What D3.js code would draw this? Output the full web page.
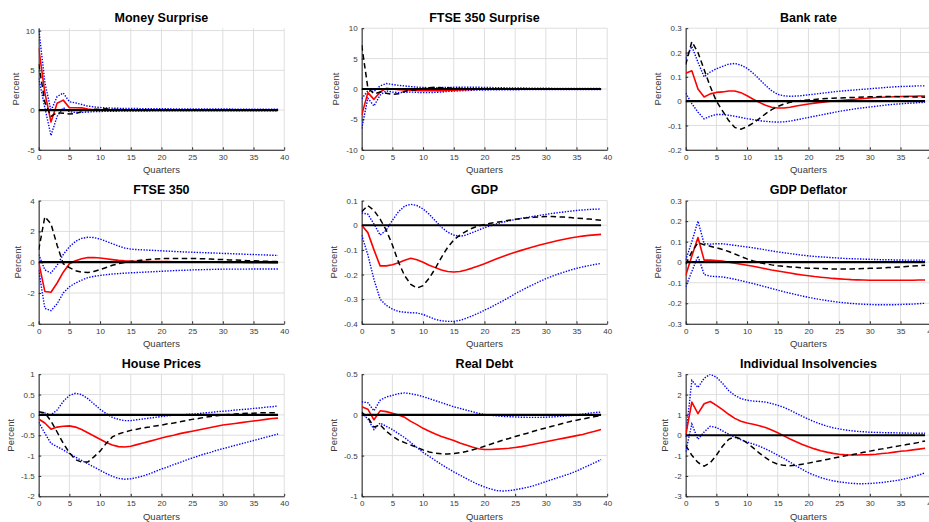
<!DOCTYPE html>
<html><head><meta charset="utf-8">
<script src="https://cdn.jsdelivr.net/npm/d3@7"></script>
<style>
body{margin:0;background:#fff;}
svg text{font-family:"Liberation Sans",Arial,Helvetica,sans-serif;}
</style>
</head><body>
<svg id="chart" width="929" height="522"></svg>
<script>
// ---------- categories & ticks ----------
const quarters = [0,1,2,3,4,5,6,7,8,9,10,11,12,13,14,15,16,17,18,19,20,21,22,23,24,25,26,27,28,29,30,31,32,33,34,35,36,37,38,39];
const xTickValues = [0,5,10,15,20,25,30,35,40];
const xTickLabels = ["0","5","10","15","20","25","30","35","40"];
const titles = ["Money Surprise","FTSE 350 Surprise","Bank rate","FTSE 350","GDP","GDP Deflator","House Prices","Real Debt","Individual Insolvencies"];
const yLabel = "Percent";
const xLabel = "Quarters";

const moneyYTicks = [-5,0,5,10];
const ftseSurpYTicks = [-10,-5,0,5,10];
const bankYTicks = [-0.2,-0.1,0,0.1,0.2,0.3];
const ftseYTicks = [-4,-2,0,2,4];
const gdpYTicks = [-0.4,-0.3,-0.2,-0.1,0,0.1];
const defYTicks = [-0.3,-0.2,-0.1,0,0.1,0.2,0.3];
const houseYTicks = [-2,-1.5,-1,-0.5,0,0.5,1];
const debtYTicks = [-1,-0.5,0,0.5];
const insYTicks = [-3,-2,-1,0,1,2,3];

const moneyYDomain = [-5,10.3];
const ftseSurpYDomain = [-10,10];
const bankYDomain = [-0.2,0.3];
const ftseYDomain = [-4,4];
const gdpYDomain = [-0.4,0.1];
const defYDomain = [-0.3,0.3];
const houseYDomain = [-2,1];
const debtYDomain = [-1,0.5];
const insYDomain = [-3,3];

// ---------- series ----------
// Money Surprise
const moneyRed = [7.8,2.2,-1.5,0.85,1.25,0.3,0.3,0.28,0.12,0.04, 0.02,0.01,0,0,0,0,0,0,0,0, 0,0,0,0,0,0,0,0,0,0, 0,0,0,0,0,0,0,0,0,0];
const moneyUpper = [10.3,3.5,-0.1,1.7,2.15,1.05,0.9,0.7,0.5,0.4, 0.32,0.27,0.24,0.22,0.21,0.2,0.19,0.18,0.17,0.17, 0.16,0.16,0.15,0.15,0.15,0.14,0.14,0.14,0.13,0.13, 0.13,0.13,0.12,0.12,0.12,0.12,0.12,0.12,0.12,0.12];
const moneyLower = [4.0,0.3,-3.2,-0.8,0.3,-0.2,-0.3,-0.3,-0.25,-0.2, -0.18,-0.16,-0.15,-0.14,-0.13,-0.12,-0.12,-0.11,-0.11,-0.1, -0.1,-0.1,-0.1,-0.1,-0.1,-0.1,-0.1,-0.1,-0.1,-0.1, -0.1,-0.1,-0.1,-0.1,-0.1,-0.1,-0.1,-0.1,-0.1,-0.1];
const moneyDashed = [5.8,1.0,-0.8,-0.3,-0.4,-0.5,-0.45,-0.2,0.0,0.1, 0.1,0.15,0.1,0.08,0.05,0.03,0.02,0.01,0,0, 0,0,0,0,0,0,0,0,0,0, 0,0,0,0,0,0,0,0,0,0];
// FTSE 350 Surprise
const ftseSurpRed = [-4.3,-0.6,-1.7,-0.5,0.1,0.0,-0.1,-0.15,-0.2,-0.25, -0.3,-0.3,-0.3,-0.28,-0.25,-0.2,-0.15,-0.1,-0.06,-0.03, -0.01,0,0,0,0,0,0,0,0,0, 0,0,0,0,0,0,0,0,0,0];
const ftseSurpUpper = [-1.6,-0.3,-0.4,0.5,0.9,0.75,0.6,0.5,0.4,0.3, 0.25,0.22,0.22,0.24,0.26,0.28,0.3,0.3,0.3,0.28, 0.26,0.24,0.22,0.2,0.18,0.17,0.16,0.15,0.14,0.13, 0.12,0.11,0.1,0.1,0.1,0.1,0.1,0.1,0.1,0.1];
const ftseSurpLower = [-6.5,-1.5,-2.8,-1.0,-0.3,-0.5,-0.6,-0.55,-0.5,-0.55, -0.6,-0.6,-0.55,-0.5,-0.4,-0.35,-0.3,-0.25,-0.2,-0.18, -0.16,-0.15,-0.14,-0.13,-0.12,-0.12,-0.11,-0.11,-0.1,-0.1, -0.1,-0.1,-0.1,-0.1,-0.1,-0.1,-0.1,-0.1,-0.1,-0.1];
const ftseSurpDashed = [7.2,0.2,-0.8,-0.5,-0.7,-0.9,-0.8,-0.4,-0.2,-0.1, 0.1,0.2,0.3,0.2,0.2,0.1,0.1,0.05,0.03,0.02, 0.01,0,0,0,0,0,0,0,0,0, 0,0,0,0,0,0,0,0,0,0];
// Bank rate
const bankRed = [0.115,0.125,0.05,0.017,0.03,0.036,0.038,0.042,0.042,0.035, 0.022,0.008,-0.005,-0.017,-0.025,-0.028,-0.028,-0.025,-0.02,-0.016, -0.012,-0.008,-0.005,-0.002,0.001,0.003,0.005,0.007,0.009,0.011, 0.013,0.015,0.016,0.017,0.018,0.019,0.02,0.02,0.021,0.021];
const bankUpper = [0.175,0.225,0.16,0.1,0.12,0.133,0.143,0.152,0.155,0.148, 0.135,0.115,0.09,0.065,0.043,0.028,0.022,0.02,0.021,0.023, 0.026,0.029,0.032,0.035,0.038,0.041,0.043,0.045,0.047,0.049, 0.051,0.053,0.055,0.057,0.059,0.06,0.061,0.062,0.063,0.063];
const bankLower = [0.033,-0.01,-0.045,-0.073,-0.062,-0.055,-0.055,-0.058,-0.062,-0.067, -0.072,-0.076,-0.08,-0.083,-0.085,-0.086,-0.085,-0.082,-0.077,-0.072, -0.067,-0.062,-0.057,-0.052,-0.047,-0.042,-0.038,-0.034,-0.03,-0.027, -0.024,-0.021,-0.018,-0.015,-0.013,-0.011,-0.009,-0.008,-0.006,-0.005];
const bankDashed = [0.15,0.245,0.2,0.13,0.06,0.0,-0.04,-0.08,-0.108,-0.115, -0.105,-0.09,-0.072,-0.052,-0.035,-0.022,-0.012,-0.005,0.0,0.003, 0.005,0.007,0.009,0.011,0.012,0.013,0.014,0.015,0.016,0.017, 0.018,0.018,0.019,0.019,0.019,0.018,0.018,0.017,0.017,0.016];
// FTSE 350
const ftseRed = [0,-1.9,-1.95,-1.35,-0.65,-0.1,0.1,0.22,0.3,0.31, 0.27,0.22,0.17,0.12,0.09,0.07,0.06,0.06,0.05,0.05, 0.04,0.04,0.03,0.03,0.02,0.02,0.01,0.01,0.0,0.0, -0.01,-0.01,-0.02,-0.02,-0.03,-0.03,-0.04,-0.04,-0.05,-0.05];
const ftseUpper = [0.5,-0.5,-0.7,-0.2,0.5,1.0,1.35,1.55,1.62,1.6, 1.5,1.35,1.2,1.05,0.92,0.85,0.82,0.8,0.78,0.76, 0.74,0.72,0.7,0.68,0.66,0.65,0.63,0.62,0.6,0.59, 0.57,0.56,0.54,0.53,0.51,0.5,0.48,0.47,0.45,0.44];
const ftseLower = [-0.5,-3.0,-3.15,-2.7,-2.0,-1.6,-1.35,-1.17,-1.0,-0.92, -0.86,-0.81,-0.77,-0.74,-0.71,-0.69,-0.67,-0.65,-0.63,-0.61, -0.59,-0.57,-0.55,-0.53,-0.52,-0.5,-0.49,-0.48,-0.47,-0.46, -0.45,-0.45,-0.45,-0.45,-0.45,-0.44,-0.44,-0.44,-0.44,-0.44];
const ftseDashed = [0.8,2.95,2.5,1.1,-0.1,-0.35,-0.55,-0.65,-0.67,-0.6, -0.48,-0.34,-0.2,-0.1,-0.02,0.05,0.1,0.14,0.18,0.21, 0.23,0.24,0.24,0.24,0.24,0.24,0.23,0.22,0.2,0.18, 0.17,0.15,0.14,0.12,0.1,0.09,0.07,0.06,0.05,0.04];
// GDP
const gdpRed = [0,-0.03,-0.1,-0.165,-0.165,-0.16,-0.152,-0.142,-0.134,-0.14, -0.15,-0.162,-0.172,-0.182,-0.188,-0.19,-0.188,-0.182,-0.174,-0.165, -0.156,-0.146,-0.136,-0.127,-0.118,-0.11,-0.102,-0.094,-0.087,-0.08, -0.074,-0.068,-0.062,-0.057,-0.052,-0.048,-0.044,-0.041,-0.039,-0.037];
const gdpUpper = [0.05,0.045,0.005,-0.04,-0.02,0.02,0.055,0.078,0.085,0.08, 0.066,0.045,0.018,-0.008,-0.028,-0.04,-0.045,-0.04,-0.03,-0.02, -0.01,-0.002,0.006,0.012,0.018,0.023,0.028,0.032,0.036,0.04, 0.044,0.048,0.051,0.054,0.057,0.06,0.062,0.064,0.065,0.066];
const gdpLower = [-0.04,-0.12,-0.22,-0.3,-0.325,-0.34,-0.35,-0.353,-0.355,-0.356, -0.362,-0.372,-0.382,-0.388,-0.39,-0.39,-0.386,-0.378,-0.368,-0.357, -0.345,-0.333,-0.32,-0.307,-0.293,-0.278,-0.265,-0.252,-0.24,-0.228, -0.217,-0.207,-0.198,-0.19,-0.182,-0.175,-0.169,-0.164,-0.159,-0.155];
const gdpDashed = [0.055,0.08,0.06,0.025,-0.02,-0.08,-0.15,-0.205,-0.24,-0.255, -0.245,-0.215,-0.175,-0.13,-0.09,-0.06,-0.04,-0.025,-0.012,-0.003, 0.003,0.008,0.012,0.016,0.02,0.024,0.027,0.03,0.032,0.034, 0.035,0.035,0.034,0.033,0.031,0.029,0.027,0.025,0.023,0.02];
// GDP Deflator
const defRed = [-0.065,0.03,0.12,0.01,0.01,0.008,0.006,0.0,-0.005,-0.01, -0.015,-0.02,-0.026,-0.032,-0.038,-0.043,-0.048,-0.053,-0.058,-0.062, -0.066,-0.07,-0.073,-0.076,-0.079,-0.081,-0.083,-0.085,-0.086,-0.087, -0.088,-0.088,-0.088,-0.088,-0.088,-0.088,-0.088,-0.088,-0.087,-0.087];
const defUpper = [0.01,0.1,0.2,0.09,0.088,0.09,0.09,0.086,0.082,0.078, 0.074,0.07,0.065,0.06,0.055,0.05,0.046,0.042,0.038,0.034, 0.031,0.028,0.026,0.024,0.022,0.02,0.018,0.017,0.016,0.015, 0.014,0.013,0.012,0.012,0.011,0.011,0.01,0.01,0.01,0.01];
const defLower = [-0.12,-0.045,0.03,-0.06,-0.068,-0.07,-0.072,-0.077,-0.083,-0.09, -0.097,-0.104,-0.112,-0.12,-0.128,-0.136,-0.144,-0.151,-0.158,-0.165, -0.171,-0.177,-0.182,-0.187,-0.191,-0.195,-0.198,-0.201,-0.203,-0.205, -0.206,-0.207,-0.207,-0.207,-0.207,-0.206,-0.205,-0.204,-0.202,-0.2];
const defDashed = [-0.01,0.05,0.095,0.085,0.078,0.07,0.062,0.052,0.04,0.028, 0.016,0.006,-0.002,-0.008,-0.013,-0.017,-0.02,-0.023,-0.025,-0.027, -0.029,-0.03,-0.031,-0.032,-0.033,-0.033,-0.033,-0.033,-0.032,-0.031, -0.03,-0.029,-0.028,-0.026,-0.025,-0.023,-0.021,-0.019,-0.017,-0.015];
// House Prices
const houseRed = [-0.1,-0.2,-0.35,-0.3,-0.28,-0.27,-0.3,-0.36,-0.44,-0.52, -0.6,-0.68,-0.74,-0.78,-0.79,-0.77,-0.73,-0.69,-0.65,-0.61, -0.57,-0.53,-0.5,-0.46,-0.43,-0.4,-0.37,-0.34,-0.31,-0.28, -0.25,-0.23,-0.21,-0.19,-0.17,-0.15,-0.13,-0.11,-0.09,-0.08];
const houseUpper = [0.05,0.05,0.0,0.12,0.33,0.48,0.53,0.5,0.4,0.27, 0.14,0.03,-0.06,-0.11,-0.14,-0.14,-0.12,-0.1,-0.08,-0.06, -0.04,-0.02,-0.01,0.0,0.01,0.02,0.03,0.05,0.06,0.08, 0.09,0.1,0.12,0.13,0.14,0.16,0.17,0.19,0.2,0.22];
const houseLower = [-0.18,-0.45,-0.7,-0.78,-0.86,-0.95,-1.04,-1.12,-1.2,-1.28, -1.36,-1.44,-1.51,-1.56,-1.58,-1.57,-1.54,-1.5,-1.45,-1.39, -1.33,-1.28,-1.22,-1.17,-1.11,-1.06,-1.01,-0.96,-0.92,-0.87, -0.83,-0.79,-0.75,-0.71,-0.67,-0.63,-0.59,-0.55,-0.51,-0.47];
const houseDashed = [0.08,0.05,-0.15,-0.42,-0.7,-0.93,-1.1,-1.16,-1.16,-1.03, -0.89,-0.7,-0.54,-0.47,-0.42,-0.38,-0.35,-0.32,-0.3,-0.27, -0.25,-0.22,-0.2,-0.17,-0.14,-0.11,-0.09,-0.06,-0.04,-0.02, 0.0,0.01,0.02,0.03,0.04,0.04,0.05,0.05,0.05,0.05];
// Real Debt
const debtRed = [0.1,0.07,-0.06,0.05,0.04,0.02,0.0,-0.03,-0.08,-0.12, -0.165,-0.2,-0.235,-0.265,-0.29,-0.315,-0.345,-0.37,-0.395,-0.415, -0.425,-0.425,-0.42,-0.415,-0.41,-0.4,-0.39,-0.375,-0.36,-0.345, -0.33,-0.315,-0.3,-0.285,-0.27,-0.255,-0.24,-0.22,-0.2,-0.18];
const debtUpper = [0.16,0.15,0.05,0.18,0.22,0.24,0.26,0.27,0.26,0.245, 0.225,0.2,0.175,0.15,0.125,0.1,0.08,0.06,0.04,0.02, 0.005,-0.005,-0.012,-0.018,-0.022,-0.025,-0.028,-0.03,-0.03,-0.03, -0.028,-0.025,-0.02,-0.015,-0.008,0.0,0.01,0.02,0.03,0.035];
const debtLower = [0.02,-0.05,-0.18,-0.1,-0.14,-0.18,-0.23,-0.28,-0.34,-0.4, -0.46,-0.51,-0.56,-0.61,-0.655,-0.7,-0.74,-0.78,-0.82,-0.855, -0.885,-0.91,-0.93,-0.935,-0.93,-0.92,-0.905,-0.89,-0.87,-0.845, -0.82,-0.795,-0.77,-0.745,-0.72,-0.69,-0.655,-0.62,-0.585,-0.55];
const debtDashed = [0.03,-0.03,-0.15,-0.12,-0.2,-0.26,-0.31,-0.34,-0.37,-0.4, -0.43,-0.455,-0.47,-0.478,-0.48,-0.475,-0.465,-0.45,-0.43,-0.41, -0.385,-0.36,-0.335,-0.31,-0.29,-0.265,-0.245,-0.225,-0.2,-0.18, -0.16,-0.14,-0.12,-0.1,-0.08,-0.065,-0.05,-0.035,-0.02,-0.01];
// Individual Insolvencies
const insRed = [0,1.63,1.06,1.55,1.66,1.47,1.26,1.03,0.83,0.69, 0.6,0.54,0.47,0.38,0.26,0.12,-0.03,-0.18,-0.32,-0.45, -0.57,-0.67,-0.76,-0.83,-0.89,-0.93,-0.96,-0.97,-0.97,-0.96, -0.95,-0.93,-0.9,-0.87,-0.83,-0.79,-0.76,-0.72,-0.68,-0.64];
const insUpper = [-0.1,2.7,2.35,2.8,3.0,2.85,2.55,2.2,1.96,1.8, 1.72,1.68,1.66,1.63,1.56,1.47,1.37,1.23,1.08,0.93, 0.79,0.66,0.55,0.45,0.37,0.31,0.26,0.22,0.19,0.17, 0.15,0.14,0.13,0.12,0.12,0.11,0.11,0.1,0.1,0.1];
const insLower = [-0.8,0.55,-0.2,0.16,0.44,0.38,0.22,0.05,-0.1,-0.22, -0.33,-0.43,-0.54,-0.67,-0.82,-0.98,-1.14,-1.32,-1.5,-1.68, -1.84,-1.97,-2.08,-2.17,-2.24,-2.29,-2.33,-2.36,-2.38,-2.38, -2.37,-2.35,-2.32,-2.28,-2.24,-2.19,-2.12,-2.04,-1.95,-1.85];
const insDashed = [-0.5,-0.98,-1.34,-1.52,-1.35,-0.98,-0.54,-0.2,-0.08,-0.18, -0.38,-0.62,-0.88,-1.1,-1.3,-1.42,-1.48,-1.5,-1.47,-1.42, -1.37,-1.31,-1.25,-1.19,-1.13,-1.07,-1.01,-0.96,-0.9,-0.84, -0.78,-0.72,-0.67,-0.62,-0.56,-0.51,-0.46,-0.41,-0.35,-0.28];

// ---------- panel table built from the arrays ----------
const panels = [
  {title: titles[0], yTicks: moneyYTicks, yDomain: moneyYDomain, red: moneyRed, upper: moneyUpper, lower: moneyLower, dashed: moneyDashed},
  {title: titles[1], yTicks: ftseSurpYTicks, yDomain: ftseSurpYDomain, red: ftseSurpRed, upper: ftseSurpUpper, lower: ftseSurpLower, dashed: ftseSurpDashed},
  {title: titles[2], yTicks: bankYTicks, yDomain: bankYDomain, red: bankRed, upper: bankUpper, lower: bankLower, dashed: bankDashed},
  {title: titles[3], yTicks: ftseYTicks, yDomain: ftseYDomain, red: ftseRed, upper: ftseUpper, lower: ftseLower, dashed: ftseDashed},
  {title: titles[4], yTicks: gdpYTicks, yDomain: gdpYDomain, red: gdpRed, upper: gdpUpper, lower: gdpLower, dashed: gdpDashed},
  {title: titles[5], yTicks: defYTicks, yDomain: defYDomain, red: defRed, upper: defUpper, lower: defLower, dashed: defDashed},
  {title: titles[6], yTicks: houseYTicks, yDomain: houseYDomain, red: houseRed, upper: houseUpper, lower: houseLower, dashed: houseDashed},
  {title: titles[7], yTicks: debtYTicks, yDomain: debtYDomain, red: debtRed, upper: debtUpper, lower: debtLower, dashed: debtDashed},
  {title: titles[8], yTicks: insYTicks, yDomain: insYDomain, red: insRed, upper: insUpper, lower: insLower, dashed: insDashed}
];

// ---------- layout ----------
const colLeft = [38.7, 361.7, 685.7];
const plotW = 245.5;
const rowTop = [28.2, 200.6, 374.2];
const rowBottom = [149.8, 323.8, 496.3];
const FONT = '"Liberation Sans",Arial,Helvetica,sans-serif';

const svg = d3.select("#chart");
svg.append("rect").attr("width",929).attr("height",522).attr("fill","#fff");
const defs = svg.append("defs");

panels.forEach((p, i) => {
  const c = i % 3, r = Math.floor(i / 3);
  const x0 = colLeft[c], x1 = x0 + plotW, yT = rowTop[r], yB = rowBottom[r];
  const x = d3.scaleLinear().domain([0, 40]).range([x0, x1]);
  const y = d3.scaleLinear().domain(p.yDomain).range([yB, yT]);
  const g = svg.append("g");

  // grid
  const grid = g.append("g");
  grid.selectAll("line.vx").data(xTickValues).join("line")
    .attr("x1", d => x(d)).attr("x2", d => x(d)).attr("y1", yT).attr("y2", yB)
    .attr("stroke", "#dedede").attr("stroke-width", 1);
  grid.selectAll("line.hy").data(p.yTicks).join("line")
    .attr("x1", x0).attr("x2", x1).attr("y1", d => y(d)).attr("y2", d => y(d))
    .attr("stroke", "#dedede").attr("stroke-width", 1);

  // axes
  const ax = g.append("g").attr("transform", `translate(0,${yB})`)
    .call(d3.axisBottom(x).tickValues(xTickValues).tickFormat((d, k) => xTickLabels[k]).tickSizeInner(-2.5).tickSizeOuter(0).tickPadding(4));
  const ay = g.append("g").attr("transform", `translate(${x0},0)`)
    .call(d3.axisLeft(y).tickValues(p.yTicks).tickFormat(d => String(d)).tickSizeInner(-2.5).tickSizeOuter(0).tickPadding(4));
  [ax, ay].forEach(a => {
    a.attr("font-family", FONT).attr("font-size", 8);
    a.select(".domain").attr("stroke", "#262626").attr("stroke-width", 1);
    a.selectAll(".tick line").attr("stroke", "#262626");
    a.selectAll(".tick text").attr("fill", "#3a3a3a");
  });
  ax.selectAll(".tick text").attr("dy", "0.72em");

  // clip
  const cid = "clip" + i;
  defs.append("clipPath").attr("id", cid).append("rect")
    .attr("x", x0).attr("y", yT).attr("width", plotW).attr("height", yB - yT);
  const plot = g.append("g").attr("clip-path", `url(#${cid})`);

  const line = d3.line().x((d, k) => x(quarters[k])).y(d => y(d));
  plot.append("path").attr("d", line(p.upper)).attr("fill", "none")
    .attr("stroke", "#0000ff").attr("stroke-width", 1.4).attr("stroke-dasharray", "1.4,1.4");
  plot.append("path").attr("d", line(p.lower)).attr("fill", "none")
    .attr("stroke", "#0000ff").attr("stroke-width", 1.4).attr("stroke-dasharray", "1.4,1.4");
  plot.append("path").attr("d", line(p.red)).attr("fill", "none")
    .attr("stroke", "#ff0000").attr("stroke-width", 1.6).attr("stroke-linejoin", "round");
  plot.append("path").attr("d", line(p.dashed)).attr("fill", "none")
    .attr("stroke", "#000").attr("stroke-width", 1.5).attr("stroke-dasharray", "5.5,3.5");
  // zero line
  const zeroLine = quarters.map(() => 0);
  plot.append("path").attr("d", line(zeroLine)).attr("fill", "none")
    .attr("stroke", "#000").attr("stroke-width", 2.2);

  // title
  g.append("text").attr("x", (x0 + x1) / 2).attr("y", yT - 6.2)
    .attr("text-anchor", "middle").attr("font-size", 12.5).attr("font-weight", "bold")
    .attr("fill", "#000").attr("font-family", FONT).text(p.title);
  // x label
  g.append("text").attr("x", (x0 + x1) / 2).attr("y", yB + 23.5)
    .attr("text-anchor", "middle").attr("font-size", 9.5).attr("fill", "#3a3a3a")
    .attr("font-family", FONT).text(xLabel);
  // y label
  let maxW = 0;
  ay.selectAll(".tick text").each(function () { maxW = Math.max(maxW, this.getComputedTextLength()); });
  const lx = x0 - maxW - 4 - 10;
  g.append("text").attr("transform", `translate(${lx},${(yT + yB) / 2}) rotate(-90)`)
    .attr("text-anchor", "middle").attr("dy", "0.35em").attr("font-size", 9.5).attr("fill", "#3a3a3a")
    .attr("font-family", FONT).text(yLabel);
});
</script>
</body></html>
